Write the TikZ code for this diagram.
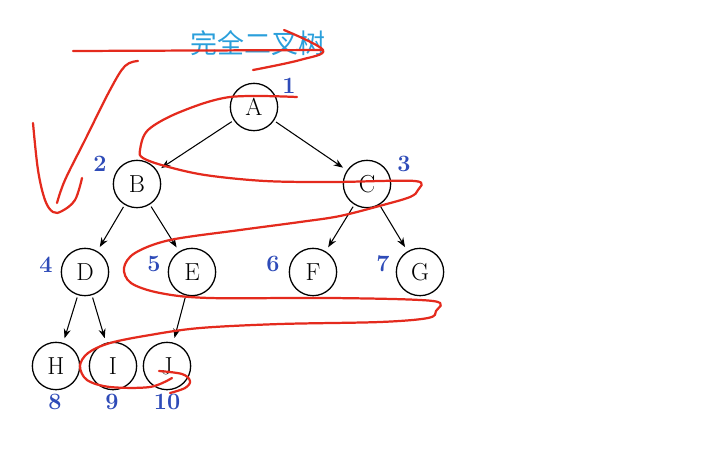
\documentclass[tikz,border=0pt]{standalone}
\usepackage{fontspec}
\usepackage{xcolor}
\newfontfamily\cjkfont{Noto Sans CJK SC}
\usetikzlibrary{arrows.meta}
\definecolor{titleblue}{HTML}{2A9FDB}
\definecolor{indexblue}{HTML}{2E4BB8}
\definecolor{inkred}{HTML}{E42A1D}

\begin{document}
\begin{tikzpicture}[
    x=0.03cm, y=-0.03cm,
    vertex/.style={circle, draw, line width=1.1pt, minimum size=1.42cm, inner sep=0pt,
                   font=\fontsize{21}{22}\selectfont},
    edge/.style={-{Stealth[length=8pt, width=6pt]}, line width=0.9pt,
                 shorten <=2pt, shorten >=4pt},
    num/.style={text=indexblue, font=\bfseries\fontsize{20}{22}\selectfont},
    heading/.style={text=titleblue, font=\cjkfont\fontsize{23}{25}\selectfont},
    scribble/.style={inkred, line width=1.9pt, line cap=round, line join=round}
  ]
    \useasboundingbox (0,0) rectangle (707,465);

    \node[heading] (title) at (258,43) {完全二叉树};

    \node[vertex] (A) at (254,107) {A};
    \node[vertex] (B) at (137,184) {B};
    \node[vertex] (C) at (367,184) {C};
    \node[vertex] (D) at (85,272) {D};
    \node[vertex] (E) at (192,272) {E};
    \node[vertex] (F) at (313,272) {F};
    \node[vertex] (G) at (420,272) {G};
    \node[vertex] (H) at (56,366) {H};
    \node[vertex] (I) at (113,366) {I};
    \node[vertex] (J) at (167,366) {J};

    \node[num] (n1) at (289,86) {1};
    \node[num] (n2) at (100,164) {2};
    \node[num] (n3) at (404,164) {3};
    \node[num] (n4) at (46,265) {4};
    \node[num] (n5) at (154,264) {5};
    \node[num] (n6) at (273,264) {6};
    \node[num] (n7) at (383,264) {7};
    \node[num] (n8) at (55,402) {8};
    \node[num] (n9) at (112,402) {9};
    \node[num] (n10) at (167,402) {10};

    \draw[edge] (A) -- (B);
    \draw[edge] (A) -- (C);
    \draw[edge] (B) -- (D);
    \draw[edge] (B) -- (E);
    \draw[edge] (C) -- (F);
    \draw[edge] (C) -- (G);
    \draw[edge] (D) -- (H);
    \draw[edge] (D) -- (I);
    \draw[edge] (E) -- (J);

    \draw[scribble] (73,51) -- (323,50);
    \draw[scribble] plot[smooth, tension=0.6] coordinates {(284,30) (323,50) (300,60) (253,70)};
    \draw[scribble] plot[smooth, tension=0.6] coordinates {(138,61) (125,66) (110,90) (85,140) (65,180) (57,203)};
    \draw[scribble] plot[smooth, tension=0.6] coordinates {(33,123) (38,170) (45,200) (53,212) (62,211) (75,200) (82,178)};
    \draw[scribble] plot[smooth, tension=0.55] coordinates {
      (297,97) (230,97) (180,112) (148,130) (140,150) (143,158) (165,166) (205,175)
      (265,181) (333,182) (415,181) (418,190) (410,197) (383,205) (340,216) (300,222)
      (240,230) (170,240) (135,253) (124,268) (131,283) (160,293) (210,298) (333,298)
      (433,301) (436,311) (428,318) (380,322) (280,324) (200,328) (150,335) (110,343)
      (88,353) (80,366) (87,380) (110,387) (150,387) (172,378)};
    \draw[scribble] plot[smooth, tension=0.6] coordinates {(159,371) (182,374) (190,381) (185,388) (170,393)};
  \end{tikzpicture}
\end{document}
